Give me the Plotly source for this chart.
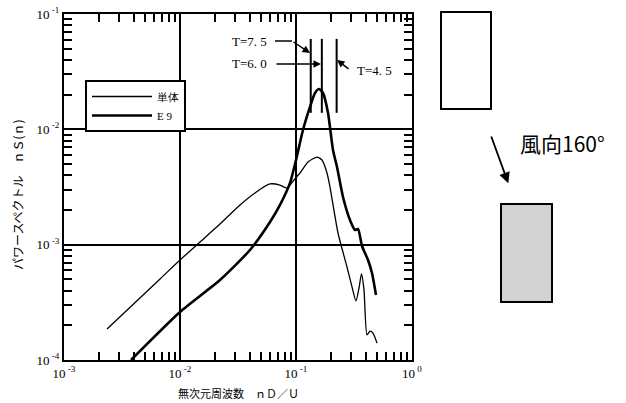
import plotly.graph_objects as go

# 単体 (single building) spectrum
single_x = [0.00235, 0.00673, 0.0100, 0.01487, 0.0221, 0.0329, 0.0443, 0.0597, 0.0728, 0.0836,
            0.0961, 0.1083, 0.1269, 0.1517, 0.1675, 0.185, 0.1964, 0.2301, 0.2752, 0.3040,
            0.329, 0.3493, 0.367, 0.3857, 0.4094, 0.4345, 0.461, 0.4994]
single_y = [1.86e-4, 5.04e-4, 7.36e-4, 1.055e-3, 1.51e-3, 2.21e-3, 2.81e-3, 3.36e-3, 3.29e-3, 3.10e-3,
            3.64e-3, 4.18e-3, 5.21e-3, 5.75e-3, 5.42e-3, 4.18e-3, 3.16e-3, 1.262e-3, 6.40e-4, 4.30e-4,
            3.25e-4, 4.21e-4, 5.57e-4, 4.05e-4, 1.65e-4, 1.78e-4, 1.71e-4, 1.40e-4]

# E9 spectrum
e9_x = [0.00378, 0.0100, 0.0221, 0.0401, 0.0597, 0.0728, 0.0888, 0.1000, 0.1149, 0.1320,
        0.1458, 0.158, 0.171, 0.1888, 0.2084, 0.2257, 0.2542, 0.2920, 0.3226, 0.3423,
        0.3707, 0.4175, 0.4519, 0.4895]
e9_y = [1.0e-4, 2.61e-4, 4.94e-4, 8.99e-4, 1.573e-3, 2.21e-3, 3.43e-3, 5.42e-3, 9.87e-3, 0.01563,
        0.02065, 0.02238, 0.02065, 0.01386, 6.62e-3, 4.72e-3, 2.59e-3, 1.637e-3, 1.34e-3, 1.368e-3,
        9.74e-4, 7.36e-4, 5.68e-4, 3.66e-4]

# marker lines for periods T
T_labels = ["T=7. 5", "T=6. 0", "T=4. 5"]
T_x = [0.134, 0.167, 0.224]
T_y_range = [0.0139, 0.0608]

x_decades = [1e-3, 1e-2, 1e-1, 1e0]
x_ticktext = ["10<sup> -3</sup>", "10<sup> -2</sup>", "10<sup> -1</sup>", "10<sup> 0</sup>"]
y_decades = [1e-4, 1e-3, 1e-2, 1e-1]
y_ticktext = ["10<sup> -4</sup>", "10<sup> -3</sup>", "10<sup> -2</sup>", "10<sup> -1</sup>"]

def minor_vals(decades):
    out = []
    for d in decades[:-1]:
        for k in range(2, 10):
            out.append(d * k)
    return out

fig = go.Figure()
fig.add_trace(go.Scatter(x=single_x, y=single_y, mode="lines", name="単体",
                         line=dict(color="black", width=1.3, shape="spline", smoothing=0.6)))
fig.add_trace(go.Scatter(x=e9_x, y=e9_y, mode="lines", name="E 9",
                         line=dict(color="black", width=2.6, shape="spline", smoothing=0.6)))
for tx in T_x:
    fig.add_trace(go.Scatter(x=[tx, tx], y=T_y_range, mode="lines", showlegend=False,
                             line=dict(color="black", width=2), hoverinfo="skip"))

axis_common = dict(
    type="log", showline=True, linecolor="black", linewidth=2, mirror="allticks",
    ticks="inside", ticklen=8, tickwidth=1.5, tickcolor="black", automargin=False,
    showgrid=True, gridcolor="black", gridwidth=1.5, zeroline=False,
    tickfont=dict(family="Liberation Serif", size=13, color="black"),
)
fig.update_xaxes(**axis_common, range=[-3, 0], tickmode="array", tickvals=x_decades, ticktext=x_ticktext,
                 minor=dict(tickmode="array", tickvals=minor_vals(x_decades), ticks="inside",
                            ticklen=8, tickwidth=1.5, tickcolor="black", showgrid=False))
fig.update_yaxes(**axis_common, range=[-4, -1], tickmode="array", tickvals=y_decades, ticktext=y_ticktext,
                 minor=dict(tickmode="array", tickvals=minor_vals(y_decades), ticks="inside",
                            ticklen=8, tickwidth=1.5, tickcolor="black", showgrid=False))

def px2paper(px, py):
    return (px - 64) / 348.0, (360 - py) / 346.0

def label(px, py, text, font, **kw):
    x, y = px2paper(px, py)
    d = dict(x=x, y=y, xref="paper", yref="paper", text=text, showarrow=False,
             xanchor="center", yanchor="middle", font=font)
    d.update(kw)
    return d

annotations = []
serif = dict(family="Liberation Serif", size=13, color="black")
# T labels
for lab, (px, py) in zip(T_labels, [(249, 41), (249, 64), (374, 71)]):
    annotations.append(label(px, py, lab, serif))
# leader arrows
for (tipx, tipy, ax, ay) in [(310, 53, -18, -12), (321, 64, -46, 0), (337, 60, 13, 10)]:
    x, y = px2paper(tipx, tipy)
    annotations.append(dict(x=x, y=y, xref="paper", yref="paper", text="", showarrow=True,
                            ax=ax, ay=ay, arrowhead=2, arrowsize=1, arrowwidth=1.5, arrowcolor="black"))
# wind arrow
x, y = px2paper(508.3, 183.3)
annotations.append(dict(x=x, y=y, xref="paper", yref="paper", text="", showarrow=True,
                        ax=-17.6, ay=-48.3, arrowhead=2, arrowsize=1.2, arrowwidth=1.8, arrowcolor="black"))
annotations.append(label(562, 143, "風向160°", dict(family="Noto Sans CJK JP", size=21, color="black")))
# axis titles
annotations.append(label(238, 393, "無次元周波数　ｎＤ／Ｕ", dict(family="Noto Sans CJK JP", size=11, color="black")))
annotations.append(label(17, 195, "パワースペクトル　ｎＳ(ｎ)", dict(family="Noto Sans CJK JP", size=12, color="black"),
                         textangle=-90))

shapes = []
# horizontal part of T=7.5 leader
x0, y0 = px2paper(275, 41)
x1, y1 = px2paper(292, 41)
shapes.append(dict(type="line", xref="paper", yref="paper", x0=x0, y0=y0, x1=x1, y1=y1,
                   line=dict(color="black", width=1.5)))
# buildings
x0, y0 = px2paper(441, 109)
x1, y1 = px2paper(491, 12)
shapes.append(dict(type="rect", xref="paper", yref="paper", x0=x0, y0=y0, x1=x1, y1=y1,
                   line=dict(color="black", width=2), fillcolor="white"))
x0, y0 = px2paper(501, 302)
x1, y1 = px2paper(552, 204)
shapes.append(dict(type="rect", xref="paper", yref="paper", x0=x0, y0=y0, x1=x1, y1=y1,
                   line=dict(color="black", width=2), fillcolor="#d2d2d2"))

lx, ly = px2paper(85, 80)
fig.update_layout(
    width=626, height=403,
    margin=dict(l=64, r=214, t=14, b=43, autoexpand=False),
    paper_bgcolor="white", plot_bgcolor="white",
    showlegend=True,
    legend=dict(x=lx, y=ly, xanchor="left", yanchor="top", bgcolor="white",
                bordercolor="black", borderwidth=2,
                font=dict(family="Liberation Serif", size=11, color="black"),
                itemwidth=60, tracegroupgap=0),
    annotations=annotations,
    shapes=shapes,
)

fig.write_html("out.html", config={"displayModeBar": False},
               post_script="document.body.style.margin='0';")
